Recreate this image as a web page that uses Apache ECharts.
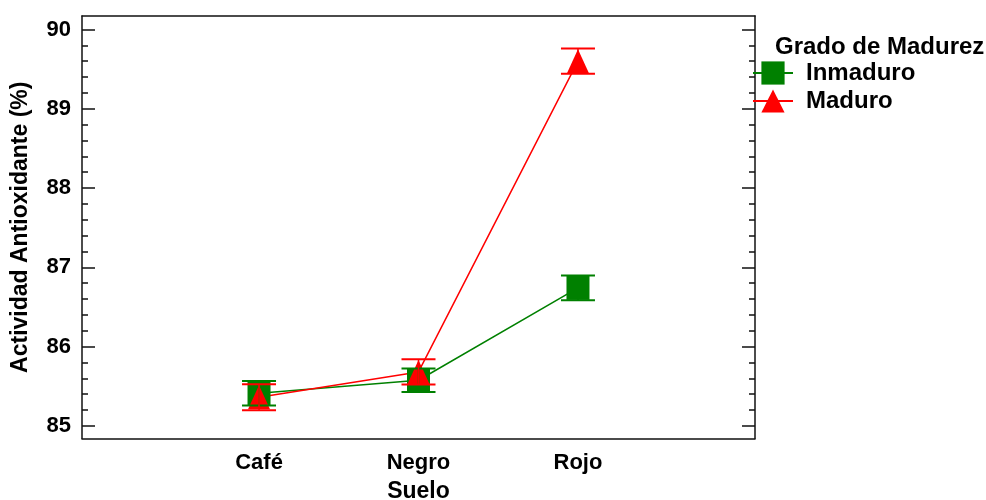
<!DOCTYPE html>
<html><head><meta charset="utf-8">
<script src="https://cdn.jsdelivr.net/npm/echarts@6/dist/echarts.min.js"></script>
<style>html,body{margin:0;padding:0;background:#fff}#c{width:986px;height:500px}</style>
</head><body><div id="c"></div>
<script>
const categories = ['Café', 'Negro', 'Rojo'];
const legendTitle = 'Grado de Madurez';
const seriesNames = ['Inmaduro', 'Maduro'];
const inmaduroMeans = [85.41, 85.575, 86.74];
const inmaduroErr = [0.155, 0.147, 0.157];
const maduroMeans = [85.36, 85.68, 89.60];
const maduroErr = [0.164, 0.16, 0.16];
const yTickLabels = [85, 86, 87, 88, 89, 90];
const yMinorTicks = yTickLabels.slice(0, -1).flatMap(v => [0.2, 0.4, 0.6, 0.8].map(f => +(v + f).toFixed(1)));

const FONT = "'Liberation Sans', Arial, sans-serif";
const GREEN = '#008000', RED = '#ff0000', AX = '#111';
const Y_MIN = 84.84, Y_MAX = 90.17, X_MIN = -1.11, X_MAX = 3.11;

function errRender(color) {
  return function (params, api) {
    const i = api.value(0), m = api.value(1), e = api.value(2);
    const top = api.coord([i, m + e]);
    const bot = api.coord([i, m - e]);
    const hw = 17;
    return {
      type: 'group',
      children: [
        { type: 'line', shape: { x1: top[0], y1: top[1], x2: bot[0], y2: bot[1] }, style: { stroke: color, lineWidth: 1.5 } },
        { type: 'line', shape: { x1: top[0] - hw, y1: top[1], x2: top[0] + hw, y2: top[1] }, style: { stroke: color, lineWidth: 2 } },
        { type: 'line', shape: { x1: bot[0] - hw, y1: bot[1], x2: bot[0] + hw, y2: bot[1] }, style: { stroke: color, lineWidth: 2 } }
      ]
    };
  };
}

const chart = echarts.init(document.getElementById('c'), null, { renderer: 'canvas' });
const yBase = { type: 'value', min: Y_MIN, max: Y_MAX, splitLine: { show: false } };
chart.setOption({
  animation: false,
  backgroundColor: '#fff',
  textStyle: { fontFamily: FONT },
  title: {
    text: legendTitle, left: 775, top: 35, padding: 0,
    textStyle: { fontFamily: FONT, fontSize: 24, fontWeight: 'bold', color: '#000' }
  },
  legend: {
    data: seriesNames, orient: 'vertical', left: 752, top: 61, padding: 0,
    itemWidth: 40, itemHeight: 29, itemGap: 4,
    textStyle: { fontFamily: FONT, fontSize: 24, fontWeight: 'bold', color: '#000', padding: [0, 0, 0, 8] }
  },
  grid: { left: 82, right: 231, top: 16, bottom: 61.5, containLabel: false, outerBoundsMode: 'none' },
  xAxis: [
    {
      type: 'value', position: 'bottom', min: X_MIN, max: X_MAX,
      axisLine: { show: true, onZero: false, lineStyle: { color: AX, width: 1.5 } },
      axisTick: { show: false },
      splitLine: { show: false },
      axisLabel: {
        customValues: [0, 1, 2], formatter: v => categories[Math.round(v)] || '',
        fontFamily: FONT, fontSize: 22, fontWeight: 'bold', color: '#000', margin: 13
      },
      name: 'Suelo', nameLocation: 'middle', nameGap: 42,
      nameTextStyle: { fontFamily: FONT, fontSize: 23, fontWeight: 'bold', color: '#000' }
    },
    {
      type: 'value', position: 'top', min: X_MIN, max: X_MAX,
      axisLine: { show: true, onZero: false, lineStyle: { color: AX, width: 1.5 } },
      axisTick: { show: false }, axisLabel: { show: false }, splitLine: { show: false }
    }
  ],
  yAxis: [
    Object.assign({}, yBase, {
      position: 'left',
      axisLine: { show: true, onZero: false, lineStyle: { color: AX, width: 1.5 } },
      axisTick: { show: true, inside: true, length: 13, customValues: yTickLabels, lineStyle: { color: AX, width: 1.5 } },
      axisLabel: { customValues: yTickLabels, fontFamily: FONT, fontSize: 22, fontWeight: 'bold', color: '#000', margin: 11 },
      name: 'Actividad Antioxidante (%)', nameLocation: 'middle', nameGap: 50,
      nameTextStyle: { fontFamily: FONT, fontSize: 23, fontWeight: 'bold', color: '#000' }
    }),
    Object.assign({}, yBase, {
      position: 'left',
      axisLine: { show: false, onZero: false },
      axisTick: { show: true, inside: true, length: 6, customValues: yMinorTicks, lineStyle: { color: AX, width: 1.5 } },
      axisLabel: { show: false }
    }),
    Object.assign({}, yBase, {
      position: 'right',
      axisLine: { show: true, onZero: false, lineStyle: { color: AX, width: 1.5 } },
      axisTick: { show: true, inside: true, length: 13, customValues: yTickLabels, lineStyle: { color: AX, width: 1.5 } },
      axisLabel: { show: false }
    }),
    Object.assign({}, yBase, {
      position: 'right',
      axisLine: { show: false, onZero: false },
      axisTick: { show: true, inside: true, length: 6, customValues: yMinorTicks, lineStyle: { color: AX, width: 1.5 } },
      axisLabel: { show: false }
    })
  ],
  series: [
    {
      name: seriesNames[0], type: 'line', xAxisIndex: 0, yAxisIndex: 0, z: 2,
      data: inmaduroMeans.map((v, i) => [i, v]),
      symbol: 'rect', symbolSize: [23, 24],
      itemStyle: { color: GREEN }, lineStyle: { color: GREEN, width: 1.5 }
    },
    {
      name: seriesNames[1], type: 'line', xAxisIndex: 0, yAxisIndex: 0, z: 2,
      data: maduroMeans.map((v, i) => [i, v]),
      symbol: 'triangle', symbolSize: [22, 24],
      itemStyle: { color: RED }, lineStyle: { color: RED, width: 1.5 }
    },
    {
      name: 'err-' + seriesNames[0], type: 'custom', xAxisIndex: 0, yAxisIndex: 0, z: 3,
      renderItem: errRender(GREEN), encode: { x: 0, y: 1 },
      data: inmaduroMeans.map((v, i) => [i, v, inmaduroErr[i]])
    },
    {
      name: 'err-' + seriesNames[1], type: 'custom', xAxisIndex: 0, yAxisIndex: 0, z: 3,
      renderItem: errRender(RED), encode: { x: 0, y: 1 },
      data: maduroMeans.map((v, i) => [i, v, maduroErr[i]])
    }
  ]
});
</script></body></html>
